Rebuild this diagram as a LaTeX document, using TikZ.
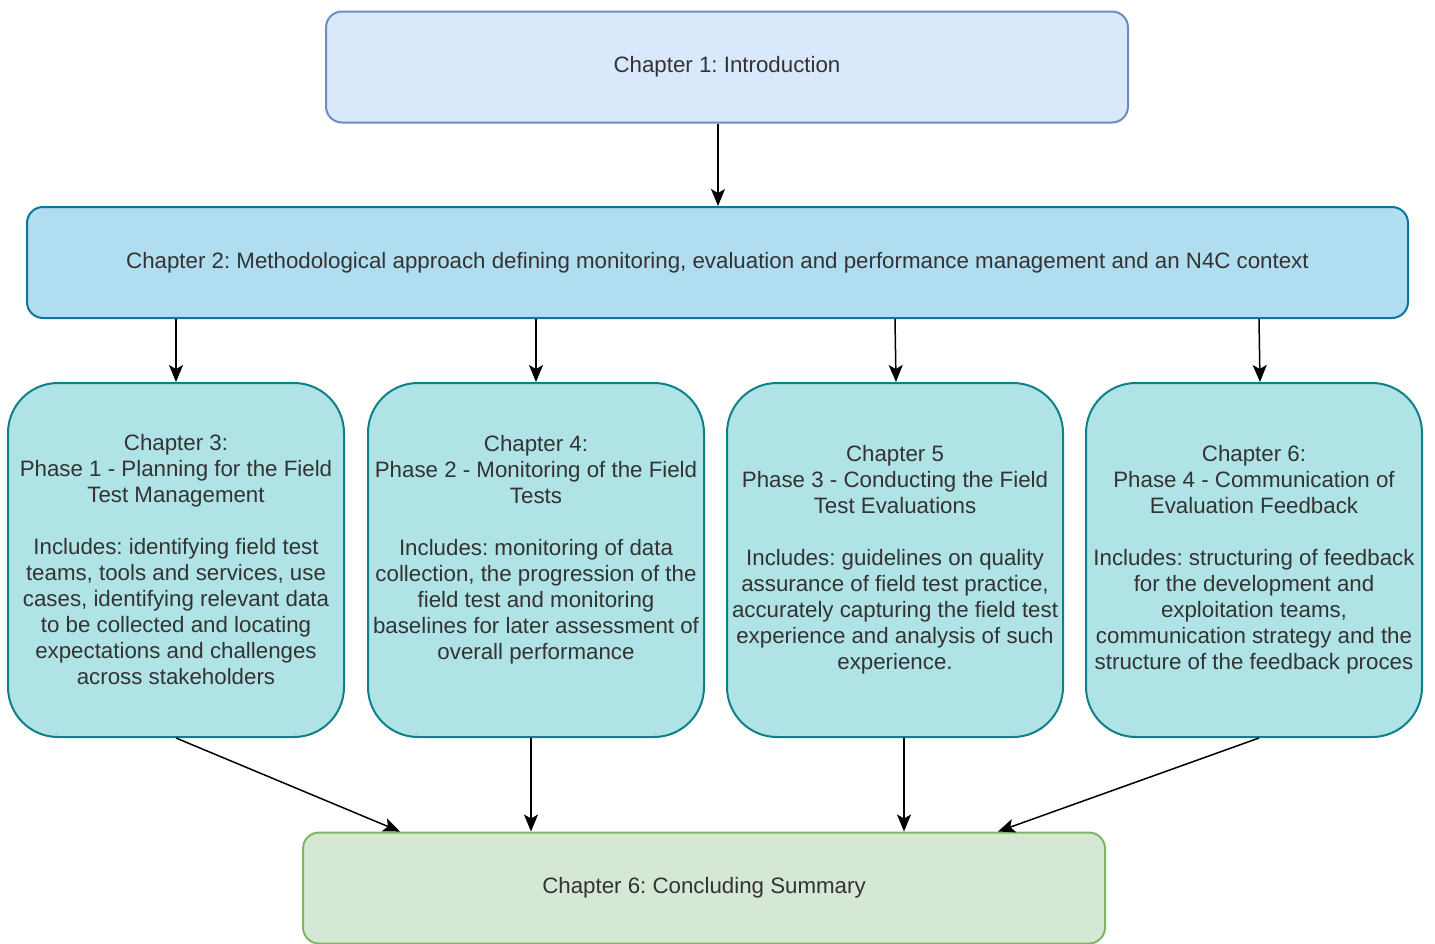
\documentclass[tikz,border=0pt]{standalone}
\usepackage{fontspec}
\setmainfont{Liberation Sans}
\usetikzlibrary{arrows.meta}
\frenchspacing
\definecolor{introfill}{HTML}{DAE8FC}
\definecolor{introline}{HTML}{6C8EBF}
\definecolor{methfill}{HTML}{B1DDF0}
\definecolor{methline}{HTML}{10739E}
\definecolor{phasefill}{HTML}{B0E3E6}
\definecolor{phaseline}{HTML}{0E8088}
\definecolor{sumfill}{HTML}{D5E8D4}
\definecolor{sumline}{HTML}{82B366}
\definecolor{txt}{HTML}{333333}
\tikzset{
  box/.style={draw, line width=2pt, inner sep=0pt, align=center, text=txt,
    font=\fontsize{22.3}{26}\selectfont},
  widebox/.style={box, rounded corners=16pt, minimum height=111pt},
  phasebox/.style={box, fill=phasefill, draw=phaseline, rounded corners=50pt,
    minimum width=336pt, minimum height=354pt},
  arr/.style={line width=1.5pt, -{Stealth[length=17pt,width=14pt,inset=4pt]}}
}
\begin{document}
\begin{tikzpicture}[x=1pt,y=-1pt]
\useasboundingbox (0,0) rectangle (1435,943);

% chapter boxes
\node[widebox, fill=introfill, draw=introline, minimum width=802pt]
  (intro) at (727,67) {Chapter 1: Introduction};
\node[widebox, fill=methfill, draw=methline, minimum width=1381pt]
  (meth) at (717.5,262.5) {Chapter 2: Methodological approach defining monitoring, evaluation and performance management and an N4C context};

\node[phasebox] (p1) at (176,560) {Chapter 3:\\Phase 1 - Planning for the Field\\Test Management\\[26pt]Includes: identifying field test\\teams, tools and services, use\\cases, identifying relevant data\\to be collected and locating\\expectations and challenges\\across stakeholders};
\node[phasebox] (p2) at (536,560) {Chapter 4:\\Phase 2 - Monitoring of the Field\\Tests\\[26pt]Includes: monitoring of data\\collection, the progression of the\\field test and monitoring\\baselines for later assessment of\\overall performance\\~};
\node[phasebox] (p3) at (895,560) {Chapter 5\\Phase 3 - Conducting the Field\\Test Evaluations\\[26pt]Includes: guidelines on quality\\assurance of field test practice,\\accurately capturing the field test\\experience and analysis of such\\experience.};
\node[phasebox] (p4) at (1254,560) {Chapter 6:\\Phase 4 - Communication of\\Evaluation Feedback\\[26pt]Includes: structuring of feedback\\for the development and\\exploitation teams,\\communication strategy and the\\structure of the feedback proces};

\node[widebox, fill=sumfill, draw=sumline, minimum width=802pt]
  (sum) at (704,888) {Chapter 6: Concluding Summary};

% connectors
\draw[arr] (intro.south -| 718,0) -- (meth.north -| 718,0);
\draw[arr] (meth.south -| 176,0) -- (p1.north -| 176,0);
\draw[arr] (meth.south -| 536,0) -- (p2.north -| 536,0);
\draw[arr] (meth.south -| 895,0) -- (p3.north -| 896,0);
\draw[arr] (meth.south -| 1259,0) -- (p4.north -| 1260,0);
\draw[arr] (p1.south) -- (sum.north -| 400,0);
\draw[arr] (p2.south -| 531,0) -- (sum.north -| 531,0);
\draw[arr] (p3.south -| 904,0) -- (sum.north -| 904,0);
\draw[arr] (p4.south -| 1259,0) -- (sum.north -| 998,0);
\end{tikzpicture}
\end{document}
